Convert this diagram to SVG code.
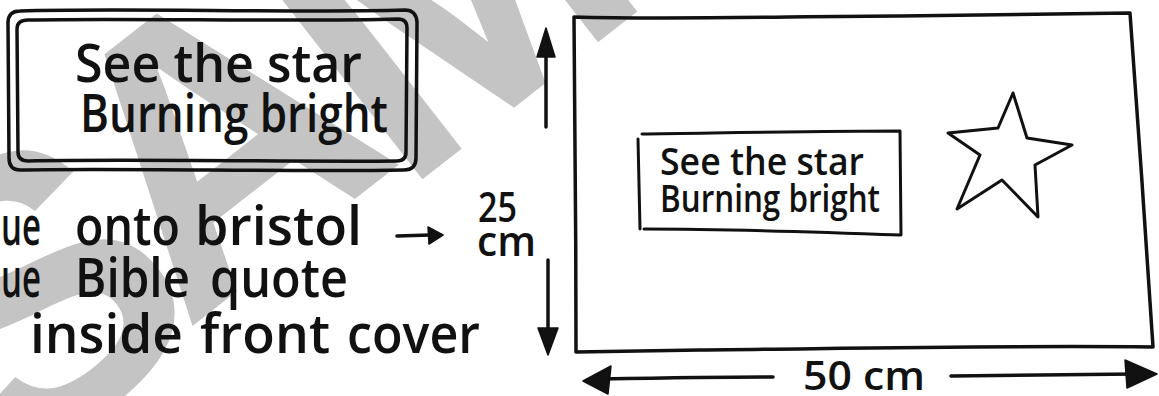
<svg xmlns="http://www.w3.org/2000/svg" width="1159" height="396" viewBox="0 0 1159 396">
<style>
.ink{fill:none;stroke:#111;stroke-width:3.5;stroke-linecap:round;stroke-linejoin:round}
.thin{fill:none;stroke:#111;stroke-width:3;stroke-linecap:round;stroke-linejoin:round}
.head{fill:#111;stroke:#111;stroke-width:1.5;stroke-linejoin:round}
.hand{font-family:"Open Sans","Liberation Sans",sans-serif;font-weight:600;fill:#111}
.wm{font-family:"Liberation Sans",Arial,sans-serif;font-weight:bold;font-size:390px;fill:#c4c4c4}
</style>
<rect width="1159" height="396" fill="#fff"/>
<g id="watermark">
<text class="wm" x="0" y="0" transform="translate(-20,492) rotate(-38)"><tspan x="33" y="10">S</tspan><tspan x="260" y="0">A</tspan><tspan x="515" y="26">MPLE</tspan></text>
</g>
<g id="sign">
<path class="ink" d="M20,11 C120,8 300,13 405,10 Q416,10 417,22 L416,158 Q416,170 404,170 C300,172 120,168 20,170 Q9,170 9,158 L8,23 Q8,11 20,11 Z"/>
<path class="ink" d="M28,20 C130,18 300,22 398,19 Q407,19 407,28 L406,152 Q406,161 397,161 C300,162 130,159 28,161 Q18,161 18,152 L17,29 Q17,20 28,20 Z"/>
<text class="hand" x="75" y="82" font-size="52" textLength="287" lengthAdjust="spacingAndGlyphs">See the star</text>
<text class="hand" x="80" y="132" font-size="52" textLength="308" lengthAdjust="spacingAndGlyphs">Burning bright</text>
</g>
<g id="notes">
<text class="hand" x="1" y="245" font-size="54" textLength="40" lengthAdjust="spacingAndGlyphs">ue</text>
<text class="hand" x="75" y="245" font-size="54" textLength="105" lengthAdjust="spacingAndGlyphs">onto</text>
<text class="hand" x="195" y="245" font-size="54" textLength="167" lengthAdjust="spacingAndGlyphs">bristol</text>
<text class="hand" x="1" y="297" font-size="54" textLength="40" lengthAdjust="spacingAndGlyphs">ue</text>
<text class="hand" x="75" y="297" font-size="54" textLength="115" lengthAdjust="spacingAndGlyphs">Bible</text>
<text class="hand" x="210" y="297" font-size="54" textLength="138" lengthAdjust="spacingAndGlyphs">quote</text>
<text class="hand" x="30" y="353" font-size="54" textLength="153" lengthAdjust="spacingAndGlyphs">inside</text>
<text class="hand" x="200" y="353" font-size="54" textLength="130" lengthAdjust="spacingAndGlyphs">front</text>
<text class="hand" x="347" y="353" font-size="54" textLength="133" lengthAdjust="spacingAndGlyphs">cover</text>
</g>
<g id="height-label">
<text class="hand" x="478" y="222" font-size="42" textLength="39" lengthAdjust="spacingAndGlyphs">25</text>
<text class="hand" x="477" y="256" font-size="42" textLength="59" lengthAdjust="spacingAndGlyphs">cm</text>
</g>
<g id="board">
<path class="ink" d="M574,17 C680,20 800,16 900,16 C980,15 1060,14 1130,13 C1138,120 1146,240 1153,347 C1000,345 820,349 700,350 L576,352 C576,240 575,120 574,17 Z"/>
<path class="thin" d="M642,134 C720,133 820,131 900,131 L901,235 C820,232 720,229 644,229 M638,139 L640,229"/>
<text class="hand" x="660" y="175" font-size="38" textLength="204" lengthAdjust="spacingAndGlyphs">See the star</text>
<text class="hand" x="660" y="212" font-size="38" textLength="220" lengthAdjust="spacingAndGlyphs">Burning bright</text>
<path id="star" class="thin" d="M1013,93 L1027,138 L1072,145 L1035,165 L1038,217 L1002,180 L957,209 L980,155 L948,133 L998,128 Z"/>
</g>
<g id="connectors">
<path class="ink" d="M397,236 L430,235"/>
<polygon class="head" points="443,235 428,227 429,244"/>
<path class="ink" d="M546,127 L546,50"/>
<polygon class="head" points="546,28 537,57 555,57"/>
<path class="ink" d="M548,260 L548,335"/>
<polygon class="head" points="548,355 538,328 558,328"/>
<path class="ink" d="M600,379 C660,378 720,377 773,377"/>
<polygon class="head" points="583,381 611,366 608,394"/>
<path class="ink" d="M951,376 C1010,375 1070,375 1135,374"/>
<polygon class="head" points="1157,374 1125,360 1127,388"/>
<text class="hand" x="803" y="390" font-size="40" textLength="122" lengthAdjust="spacingAndGlyphs">50 cm</text>
</g>
</svg>
